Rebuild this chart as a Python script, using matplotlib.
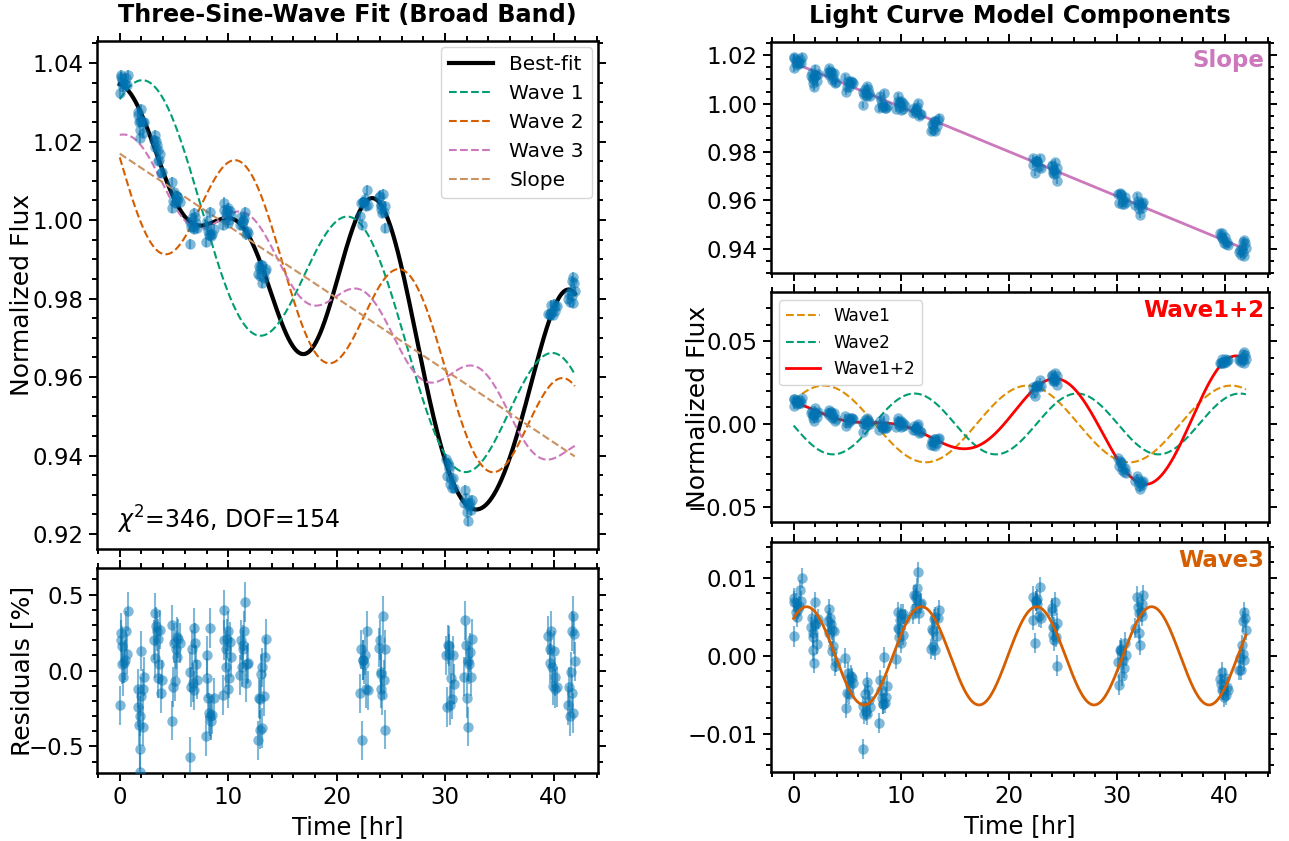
import numpy as np
import matplotlib.pyplot as plt
from matplotlib.ticker import MultipleLocator

# observation times [hr] and residuals [%], read per observing block
time = [0.07, 0.07, 0.18, 0.29, 0.00, 0.36, 0.55, 0.65, 0.73, 0.47, 0.18,
        1.64, 1.75, 1.82, 1.89, 2.00, 2.00, 2.11, 2.18, 2.25, 1.82, 1.71,
        3.27, 3.20, 3.35, 3.45, 3.56, 3.64, 3.75, 3.82, 3.93, 3.27, 3.53,
        4.80, 4.91, 5.02, 5.09, 5.16, 5.27, 5.38, 5.53, 4.84, 5.31,
        6.47, 6.55, 6.65, 6.73, 6.84, 6.91, 7.02, 7.09, 6.44, 6.80,
        8.00, 8.07, 8.18, 8.25, 8.36, 8.44, 8.55, 8.65, 7.93, 8.29,
        9.64, 9.64, 9.75, 9.82, 9.89, 10.00, 10.11, 10.18, 10.29, 9.53, 9.96,
        11.09, 11.20, 11.27, 11.35, 11.45, 11.56, 11.64, 11.71, 11.82, 11.38,
        12.73, 12.84, 12.91, 13.02, 13.09, 13.16, 13.27, 13.38, 13.45, 12.95,
        22.18, 22.25, 22.36, 22.44, 22.55, 22.62, 22.73, 22.84, 22.91, 22.47,
        23.93, 24.00, 24.07, 24.11, 24.18, 24.29, 24.36, 24.44, 24.47, 24.07,
        30.07, 30.18, 30.29, 30.36, 30.47, 30.55, 30.65, 30.73, 30.80, 30.40,
        31.71, 31.82, 31.93, 32.00, 32.07, 32.15, 32.22, 32.29, 32.36, 32.44,
        39.53, 39.64, 39.71, 39.78, 39.85, 39.93, 40.00, 40.11, 40.18, 40.29,
        41.35, 41.45, 41.53, 41.60, 41.67, 41.75, 41.82, 41.89, 41.96, 41.71]
resid = [0.25, 0.20, 0.04, -0.04, -0.23, 0.05, 0.26, 0.11, 0.39, 0.07, 0.16,
         -0.24, -0.36, -0.52, -0.67, -0.17, 0.13, -0.12, -0.37, -0.04, -0.30, -0.12,
         0.38, 0.20, 0.29, 0.26, -0.05, 0.04, 0.27, -0.15, -0.06, 0.08, 0.21,
         0.30, -0.11, 0.18, -0.07, 0.14, 0.09, 0.21, 0.18, -0.33, 0.22,
         -0.01, -0.11, 0.14, -0.08, 0.28, 0.18, 0.04, -0.06, -0.57, -0.13,
         0.10, -0.05, -0.18, -0.28, 0.28, -0.33, -0.29, -0.18, -0.43, -0.30,
         0.40, 0.20, 0.14, 0.02, 0.21, -0.12, -0.05, 0.19, 0.09, -0.16, 0.26,
         -0.03, 0.20, 0.02, 0.14, 0.26, 0.45, -0.08, 0.04, 0.05, 0.17,
         -0.46, -0.18, -0.39, -0.02, 0.02, -0.38, -0.17, 0.09, 0.21, -0.19,
         -0.15, 0.14, -0.46, 0.07, 0.04, 0.10, -0.12, 0.26, -0.13, 0.07,
         0.15, 0.20, -0.12, -0.01, -0.16, 0.36, -0.06, 0.14, -0.39, -0.02,
         0.10, -0.24, 0.17, 0.16, -0.23, -0.05, -0.19, 0.10, -0.09, 0.11,
         -0.04, 0.33, 0.17, -0.18, 0.06, -0.37, 0.04, 0.12, -0.04, 0.21,
         0.23, 0.14, 0.05, 0.26, 0.02, -0.10, 0.13, -0.12, -0.04, -0.11,
         -0.23, -0.11, -0.30, -0.01, -0.15, 0.36, -0.28, 0.24, 0.06, 0.26]
err_pct = 0.13

# fitted model parameters
slope_b, slope_m = 1.0169, -0.001838
amps = [0.0232, 0.0184, 0.0063]
periods = [18.9, 15.1, 10.67]
t_peaks = [2.8, 11.2, 1.2]

blue = '#0173b2'
c_orange, c_green, c_red = '#de8f05', '#029e73', '#d55e00'
c_pink, c_tan = '#cc78bc', '#ca9161'


def wave(t, i):
    return amps[i] * np.cos(2 * np.pi * (t - t_peaks[i]) / periods[i])


def slope(t):
    return slope_b + slope_m * t


t = np.array(time)
r = np.array(resid) / 100.
err = err_pct / 100.
tt = np.linspace(t.min(), t.max(), 600)

model = slope(t) + wave(t, 0) + wave(t, 1) + wave(t, 2)
flux = model + r
best = slope(tt) + wave(tt, 0) + wave(tt, 1) + wave(tt, 2)

W, H = 1289, 841
fig = plt.figure(figsize=(W / 100, H / 100), dpi=100)


def box(x0, x1, y0, y1):
    return [x0 / W, 1 - y1 / H, (x1 - x0) / W, (y1 - y0) / H]


def style(ax, ymaj, ymin, xlabels=True):
    ax.set_xlim(-2.1, 44.1)
    ax.xaxis.set_major_locator(MultipleLocator(10))
    ax.xaxis.set_minor_locator(MultipleLocator(2))
    ax.yaxis.set_major_locator(MultipleLocator(ymaj))
    ax.yaxis.set_minor_locator(MultipleLocator(ymin))
    ax.tick_params(which='both', direction='out', top=True, right=True,
                   width=1.4, labelsize=16.5)
    ax.tick_params(which='major', length=6)
    ax.tick_params(which='minor', length=3.5)
    if not xlabels:
        ax.tick_params(labelbottom=False)
    for s in ax.spines.values():
        s.set_linewidth(1.8)


def data(ax, y, yerr, z=3):
    ax.errorbar(t, y, yerr=yerr, fmt='o', color=blue, alpha=0.5, ms=7.5,
                mew=0, elinewidth=1.5, capsize=0, zorder=z)


# left: full fit
ax1 = fig.add_axes(box(97, 598, 41, 549))
ax1.plot(tt, best, color='k', lw=3, label='Best-fit', zorder=2)
ax1.plot(tt, slope(tt) + wave(tt, 0), '--', color=c_green, lw=1.5, label='Wave 1')
ax1.plot(tt, slope(tt) + wave(tt, 1), '--', color=c_red, lw=1.5, label='Wave 2')
ax1.plot(tt, slope(tt) + wave(tt, 2), '--', color=c_pink, lw=1.5, label='Wave 3')
ax1.plot(tt, slope(tt), '--', color=c_tan, lw=1.5, label='Slope')
data(ax1, flux, err)
ax1.set_ylim(0.9162, 1.0456)
style(ax1, 0.02, 0.005, xlabels=False)
ax1.set_ylabel('Normalized Flux', fontsize=18)
ax1.yaxis.set_label_coords(-0.125, 0.5)
ax1.set_title('Three-Sine-Wave Fit (Broad Band)', fontsize=17.2,
              fontweight='bold', pad=14)
ax1.legend(loc='upper right', fontsize=14.5, handlelength=2.2,
           borderaxespad=0.3)
ax1.text(0.04, 0.025, r'$\chi^2$=346, DOF=154', transform=ax1.transAxes,
         fontsize=17, ha='left', va='bottom')

ax2 = fig.add_axes(box(97, 598, 568, 773))
data(ax2, np.array(resid), err_pct)
ax2.set_ylim(-0.675, 0.675)
style(ax2, 0.5, 0.1)
ax2.set_ylabel('Residuals [%]', fontsize=18)
ax2.yaxis.set_label_coords(-0.125, 0.5)
ax2.set_xlabel('Time [hr]', fontsize=17.5)

# right: components
ax3 = fig.add_axes(box(771, 1269, 42, 273))
ax3.plot(tt, slope(tt), color=c_pink, lw=2, zorder=2)
data(ax3, slope(t) + r, err)
ax3.set_ylim(0.930, 1.0255)
style(ax3, 0.02, 0.005, xlabels=False)
ax3.set_title('Light Curve Model Components', fontsize=17.2,
              fontweight='bold', pad=14)
ax3.text(0.99, 0.97, 'Slope', transform=ax3.transAxes, color=c_pink,
         fontsize=16.5, fontweight='bold', ha='right', va='top')

ax4 = fig.add_axes(box(771, 1269, 292, 522))
ax4.plot(tt, wave(tt, 0), '--', color=c_orange, lw=1.5, label='Wave1')
ax4.plot(tt, wave(tt, 1), '--', color=c_green, lw=1.5, label='Wave2')
ax4.plot(tt, wave(tt, 0) + wave(tt, 1), color='red', lw=2, label='Wave1+2')
data(ax4, wave(t, 0) + wave(t, 1) + r, err)
ax4.set_ylim(-0.0593, 0.0798)
style(ax4, 0.05, 0.01, xlabels=False)
ax4.set_ylabel('Normalized Flux', fontsize=18)
ax4.yaxis.set_label_coords(-0.122, 0.5)
ax4.legend(loc='upper left', fontsize=12.2)
ax4.text(0.99, 0.97, 'Wave1+2', transform=ax4.transAxes, color='red',
         fontsize=16.5, fontweight='bold', ha='right', va='top')

ax5 = fig.add_axes(box(771, 1269, 542, 772))
data(ax5, wave(t, 2) + r, err, z=2)
ax5.plot(tt, wave(tt, 2), color=c_red, lw=2, zorder=3)
ax5.set_ylim(-0.0149, 0.0146)
style(ax5, 0.01, 0.002)
ax5.set_xlabel('Time [hr]', fontsize=17.5)
ax5.text(0.99, 0.97, 'Wave3', transform=ax5.transAxes, color=c_red,
         fontsize=16.5, fontweight='bold', ha='right', va='top')

fig.savefig('out.png', dpi=100)
